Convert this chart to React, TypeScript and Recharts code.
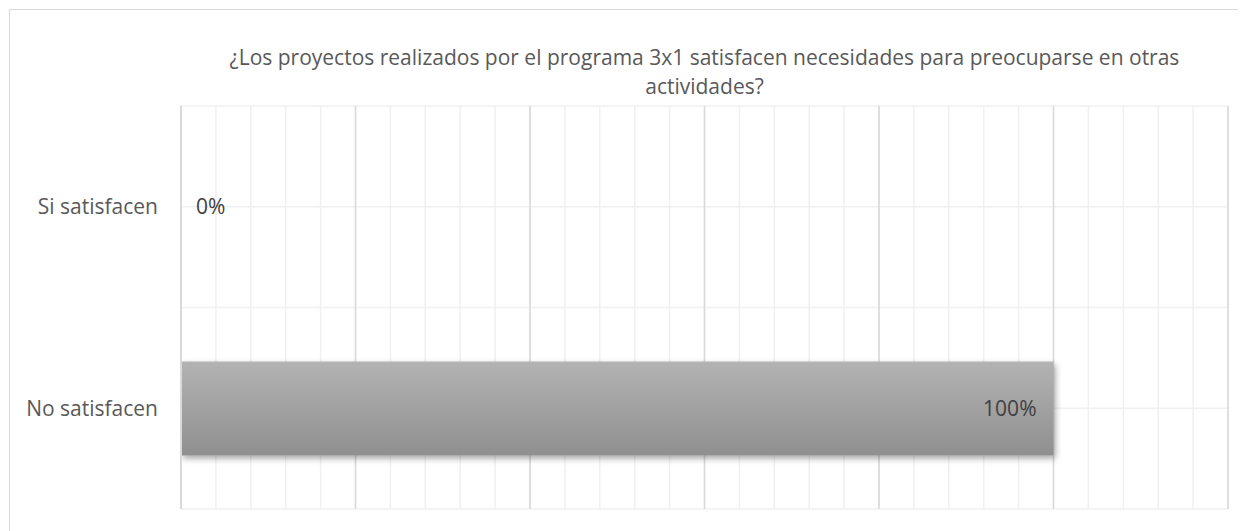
import React from "react";
import {
  BarChart,
  Bar,
  XAxis,
  YAxis,
  CartesianGrid,
  LabelList,
} from "recharts";

const CATEGORIES = ["Si satisfacen", "No satisfacen"];
const VALUES = [0, 1];
const TITLE_LINES = [
  "¿Los proyectos realizados por el programa 3x1 satisfacen necesidades para preocuparse en otras",
  "actividades?",
];

// x axis runs 0..120%, major lines every 20%, minor every 4%
const X_MAX = 1.2;
const MAJOR_TICKS = [0, 0.2, 0.4, 0.6, 0.8, 1.0, 1.2];
const MINOR_TICKS = Array.from({ length: 31 }, (_, i) => +(i * 0.04).toFixed(2));

const data = CATEGORIES.map((name, i) => ({ name, value: VALUES[i] }));

const FONT = "'Open Sans', 'Noto Sans', sans-serif";
const TEXT = "#595959";

const W = 1237;
const H = 522;
const MARGIN = { top: 96, right: 19, bottom: 23, left: 0 };
const AXIS_W = 171;

const renderValueLabel = (props: any) => {
  const { x, y, width, height, value } = props;
  const text = `${Math.round(value * 100)}%`;
  const cy = y + height / 2;
  const small = !width || width < 60;
  return (
    <text
      x={small ? x + 15 : x + width - 17}
      y={cy}
      dy="0.35em"
      textAnchor={small ? "start" : "end"}
      fill="#404040"
      fontSize={21}
      fontFamily={FONT}
    >
      {text}
    </text>
  );
};

const scaleGen = (ticks: number[]) => ({ xAxis, offset }: any) =>
  ticks.map((t) =>
    xAxis && typeof xAxis.scale === "function"
      ? xAxis.scale(t)
      : offset.left + (t / X_MAX) * offset.width
  );

export default function App() {
  return (
    <div
      style={{
        position: "relative",
        width: W + 1,
        height: H + 1,
        borderTop: "1px solid #d9d9d9",
        borderLeft: "1px solid #d9d9d9",
        marginLeft: 1,
        marginTop: 1,
        background: "#fff",
        overflow: "hidden",
        fontFamily: FONT,
      }}
    >
      <div
        style={{
          position: "absolute",
          left: AXIS_W - 20,
          width: W - MARGIN.right - AXIS_W + 40,
          top: 33,
          textAlign: "center",
          color: TEXT,
          fontSize: 21,
          lineHeight: "29px",
        }}
      >
        {TITLE_LINES.map((line) => (
          <div key={line} style={{ whiteSpace: "nowrap" }}>
            {line}
          </div>
        ))}
      </div>
      <BarChart width={W} height={H} data={data} layout="vertical" margin={MARGIN}>
        <defs>
          <linearGradient id="barFill" x1="0" y1="0" x2="0" y2="1">
            <stop offset="0%" stopColor="#b3b3b3" />
            <stop offset="100%" stopColor="#8f8f8f" />
          </linearGradient>
          <filter id="barShadow" x="-5%" y="-20%" width="110%" height="150%">
            <feDropShadow dx="2" dy="3" stdDeviation="3" floodColor="#000" floodOpacity="0.35" />
          </filter>
        </defs>
        <CartesianGrid
          stroke="#f0f0f0"
          strokeWidth={1.5}
          verticalCoordinatesGenerator={scaleGen(MINOR_TICKS)}
          horizontalCoordinatesGenerator={({ offset }: any) =>
            [0, 1, 2, 3, 4].map((i) => offset.top + (i * offset.height) / 4)
          }
        />
        <CartesianGrid
          stroke="#d9d9d9"
          strokeWidth={1.5}
          horizontal={false}
          verticalCoordinatesGenerator={scaleGen(MAJOR_TICKS)}
        />
        <XAxis
          type="number"
          domain={[0, X_MAX]}
          ticks={MINOR_TICKS}
          tick={false}
          tickLine={false}
          axisLine={{ stroke: "#eeeeee", strokeWidth: 1.5 }}
          height={0}
          allowDataOverflow
        />
        <YAxis
          type="category"
          dataKey="name"
          width={AXIS_W}
          tickLine={false}
          tickMargin={17}
          axisLine={{ stroke: "#d9d9d9", strokeWidth: 2 }}
          tick={{ fill: TEXT, fontSize: 21, fontFamily: FONT }}
        />
        <Bar
          dataKey="value"
          barSize={94}
          minPointSize={0.01}
          fill="url(#barFill)"
          filter="url(#barShadow)"
          isAnimationActive={false}
        >
          <LabelList dataKey="value" content={renderValueLabel} />
        </Bar>
      </BarChart>
    </div>
  );
}
